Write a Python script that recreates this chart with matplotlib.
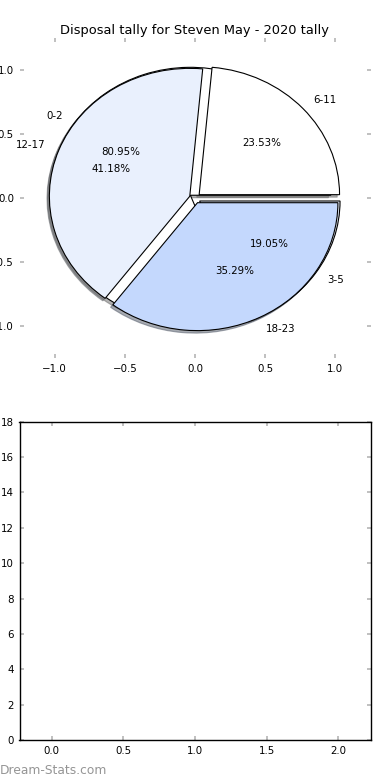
import matplotlib
matplotlib.use("Agg")
import matplotlib.pyplot as plt

# Data
title = "Disposal tally for Steven May - 2020 tally"
labels_a = ["0-2", "3-5"]
values_a = [17, 4]
labels_b = ["6-11", "12-17", "18-23"]
values_b = [4, 7, 6]
colors = ["#ffffff", "#e9f0fd", "#c4d8fd"]
explode_a = [0.04, 0.04]
explode_b = [0.04, 0.04, 0.04]

pie_ticks = [-1.0, -0.5, 0.0, 0.5, 1.0]
bar_xticks = [0.0, 0.5, 1.0, 1.5, 2.0]
bar_yticks = list(range(0, 19, 2))

fs = 7.4
fig = plt.figure(figsize=(3.9, 7.8), dpi=100)

ax1 = fig.add_axes([0.05, 0.541, 0.9, 0.41])
wp = dict(edgecolor="black", linewidth=0.8)
shadow = dict(ox=-0.012, oy=-0.014, shade=0.6)
ax1.pie(values_a, labels=labels_a, colors=colors[:len(values_a)], explode=explode_a,
        autopct="%.2f%%", shadow=shadow, startangle=0, wedgeprops=wp,
        textprops=dict(fontsize=fs), frame=True)
ax1.pie(values_b, labels=labels_b, colors=colors[:len(values_b)], explode=explode_b,
        autopct="%.2f%%", shadow=shadow, startangle=0, wedgeprops=wp,
        textprops=dict(fontsize=fs), frame=True)
ax1.set_aspect("auto")
ax1.set_xlim(-1.25, 1.25)
ax1.set_ylim(-1.25, 1.25)
ax1.set_frame_on(False)
ax1.set_xticks(pie_ticks)
ax1.set_yticks(pie_ticks)
ax1.set_xticklabels(["\u22121.0", "\u22120.5", "0.0", "0.5", "1.0"])
ax1.set_yticklabels(["\u22121.0", "\u22120.5", "0.0", "0.5", "1.0"])
ax1.set_title(title, fontsize=9.4, pad=3)

ax2 = fig.add_axes([0.05, 0.0513, 0.9, 0.408])
ax2.set_xlim(-0.225, 2.225)
ax2.set_ylim(0, 18)
ax2.set_xticks(bar_xticks)
ax2.set_yticks(bar_yticks)
for s in ax2.spines.values():
    s.set_linewidth(1.0)
    s.set_color("black")

for ax in (ax1, ax2):
    ax.tick_params(direction="in", top=True, right=True, length=3, width=1.3,
                   color="#bbbbbb", labelsize=fs, pad=4)

fig.text(0.0, 0.0128, "Dream-Stats.com", ha="left", va="center",
         color="#959595", fontsize=8.8, fontweight="normal")

fig.savefig("out.png", dpi=100)
